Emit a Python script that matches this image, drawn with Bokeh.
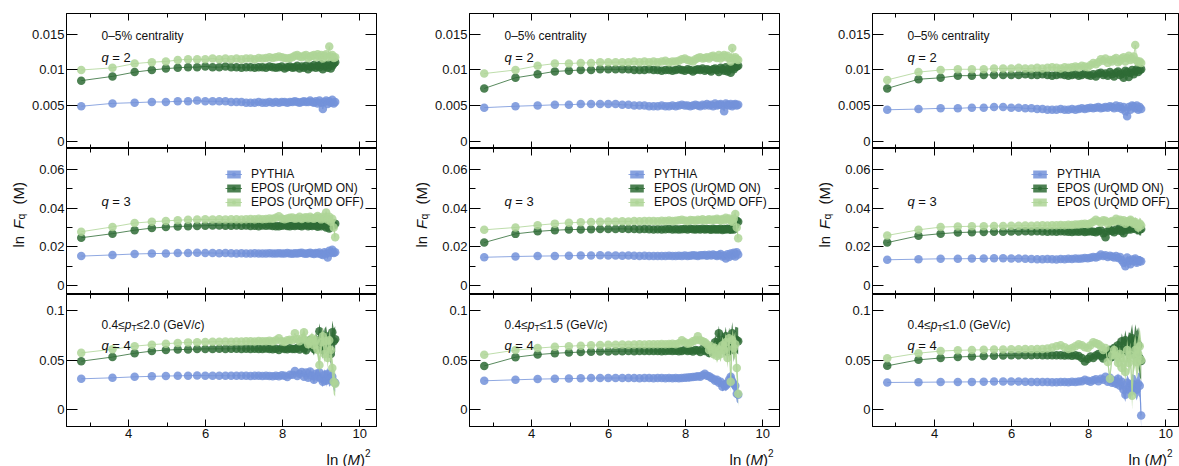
import numpy as np
from bokeh.plotting import figure
from bokeh.layouts import row, column
from bokeh.models import (FixedTicker, LinearAxis, Range1d, Label, Legend,
                          LegendItem, CustomJSTickFormatter, Spacer)
from bokeh.embed import file_html
from bokeh.resources import INLINE

# ---------------------------------------------------------------- data
M_BINS = [4, 6, 8, 10, 12, 14, 16, 18, 20, 22,
          24, 26, 28, 30, 32, 34, 36, 38, 40, 42,
          44, 46, 48, 50, 52, 54, 56, 58, 60, 62,
          64, 66, 68, 70, 72, 74, 76, 78, 80, 82,
          84, 86, 88, 90, 92, 94, 96, 98, 100, 102,
          104, 106, 108]
UNIT = 1e-4  # all values below are in units of 1e-4

# pT 0.4-2.0
C1_Q2_PYTHIA = [49, 53, 54, 55, 55, 56, 56, 57, 56, 56,
                56, 56, 55, 55, 55, 54, 54, 54, 55, 54,
                54, 55, 54, 55, 54, 55, 55, 54, 55, 55,
                56, 55, 54, 55, 56, 55, 55, 57, 55, 54,
                56, 53, 57, 54, 45, 55, 57, 52, 56, 54,
                58, 53, 55]
C1_Q2_ON = [85, 91, 97, 100, 102, 103, 104, 104, 105, 104,
            104, 105, 104, 104, 103, 104, 104, 103, 104, 104,
            103, 105, 104, 103, 104, 105, 102, 104, 105, 103,
            104, 106, 102, 105, 103, 106, 101, 105, 104, 107,
            103, 106, 104, 108, 101, 105, 107, 103, 108, 102,
            106, 109, 111]
C1_Q2_OFF = [100, 103, 109, 111, 112, 114, 115, 115, 115, 116,
             115, 116, 115, 116, 115, 116, 116, 115, 117, 116,
             117, 118, 117, 118, 119, 118, 117, 116, 117, 118,
             120, 121, 119, 118, 120, 121, 117, 119, 120, 121,
             118, 122, 119, 121, 116, 120, 122, 118, 133, 119,
             121, 117, 118]
C1_Q3_PYTHIA = [152, 158, 163, 165, 166, 168, 168, 169, 168, 168,
                167, 168, 167, 166, 167, 166, 166, 167, 166, 165,
                166, 167, 166, 165, 167, 166, 165, 168, 166, 164,
                167, 165, 168, 169, 166, 164, 167, 170, 165, 163,
                168, 166, 171, 162, 158, 172, 165, 145, 180, 170,
                185, 168, 172]
C1_Q3_ON = [247, 268, 286, 297, 302, 305, 307, 308, 309, 310,
            310, 309, 309, 310, 309, 310, 308, 309, 307, 310,
            309, 310, 308, 307, 306, 309, 311, 308, 306, 310,
            308, 312, 309, 307, 311, 313, 306, 310, 308, 314,
            309, 304, 312, 307, 315, 310, 300, 312, 295, 318,
            322, 310, 320]
C1_Q3_OFF = [278, 303, 323, 330, 334, 338, 340, 341, 342, 341,
             342, 341, 343, 342, 341, 343, 344, 342, 345, 343,
             344, 346, 345, 350, 358, 347, 343, 346, 350, 352,
             345, 348, 356, 344, 350, 353, 347, 356, 348, 345,
             352, 360, 350, 342, 355, 348, 378, 340, 355, 330,
             345, 300, 250]
C1_Q4_PYTHIA = [310, 320, 330, 335, 338, 340, 342, 343, 342, 341,
                342, 341, 340, 342, 341, 340, 339, 341, 340, 338,
                342, 339, 337, 341, 336, 345, 340, 328, 352, 350,
                390, 338, 360, 380, 330, 375, 320, 385, 340, 300,
                360, 330, 375, 310, 280, 350, 290, 360, 300, 320,
                330, 280, 270]
C1_Q4_ON = [488, 530, 568, 590, 600, 605, 607, 610, 612, 612,
            613, 612, 613, 614, 612, 613, 611, 614, 612, 610,
            615, 612, 609, 614, 600, 622, 612, 608, 618, 610,
            612, 620, 605, 640, 618, 598, 660, 700, 640, 610,
            700, 650, 790, 680, 600, 720, 740, 630, 700, 560,
            780, 690, 710]
C1_Q4_OFF = [572, 608, 640, 655, 665, 672, 678, 680, 682, 684,
             685, 686, 685, 688, 686, 689, 690, 688, 692, 689,
             690, 695, 688, 700, 720, 690, 682, 700, 705, 700,
             770, 710, 690, 720, 780, 700, 660, 690, 720, 650,
             700, 600, 450, 680, 740, 560, 690, 520, 700, 600,
             420, 280, 260]

# pT 0.4-1.5
C2_Q2_PYTHIA = [47, 49, 50, 51, 51, 52, 52, 52, 52, 52,
                51, 51, 50, 50, 50, 49, 49, 49, 50, 49,
                49, 50, 49, 50, 51, 50, 50, 49, 50, 51,
                50, 49, 51, 50, 52, 50, 51, 49, 53, 50,
                51, 52, 50, 42, 53, 51, 50, 52, 49, 51,
                52, 50, 51]
C2_Q2_ON = [74, 89, 94, 98, 99, 100, 100, 101, 101, 101,
            101, 101, 100, 100, 100, 101, 100, 100, 99, 100,
            100, 99, 100, 101, 100, 99, 101, 100, 98, 100,
            101, 100, 102, 99, 101, 100, 98, 101, 102, 100,
            97, 103, 101, 99, 104, 98, 102, 96, 103, 101,
            104, 105, 106]
C2_Q2_OFF = [95, 100, 106, 109, 109, 110, 110, 111, 111, 111,
             111, 111, 112, 111, 112, 111, 112, 111, 112, 113,
             111, 112, 112, 113, 115, 116, 114, 113, 112, 115,
             117, 118, 116, 117, 118, 116, 119, 120, 118, 117,
             121, 116, 119, 121, 118, 120, 117, 112, 131, 116,
             118, 115, 114]
C2_Q3_PYTHIA = [146, 150, 152, 153, 154, 155, 155, 156, 155, 155,
                154, 155, 154, 153, 154, 153, 152, 153, 152, 153,
                154, 152, 153, 154, 152, 155, 153, 154, 156, 155,
                153, 157, 156, 158, 154, 159, 155, 160, 156, 152,
                158, 163, 150, 155, 140, 162, 148, 165, 155, 170,
                150, 172, 160]
C2_Q3_ON = [222, 267, 280, 286, 289, 290, 291, 292, 292, 292,
            293, 292, 292, 291, 292, 291, 290, 291, 290, 291,
            292, 290, 291, 289, 291, 292, 290, 293, 291, 290,
            292, 289, 293, 290, 292, 291, 288, 293, 290, 291,
            289, 293, 287, 292, 290, 294, 291, 288, 296, 290,
            310, 335, 330]
C2_Q3_OFF = [288, 300, 312, 320, 324, 327, 329, 330, 331, 331,
             332, 331, 333, 332, 333, 334, 333, 332, 335, 334,
             336, 333, 335, 338, 340, 336, 334, 339, 337, 335,
             340, 338, 342, 336, 339, 343, 337, 341, 339, 345,
             340, 336, 344, 338, 350, 342, 347, 336, 330, 345,
             370, 300, 245]
C2_Q4_PYTHIA = [290, 300, 307, 310, 312, 315, 317, 318, 318, 318,
                318, 317, 318, 316, 318, 317, 316, 318, 317, 315,
                318, 316, 319, 315, 318, 320, 322, 325, 328, 332,
                335, 330, 345, 360, 340, 335, 320, 310, 290, 300,
                270, 280, 230, 250, 240, 260, 300, 330, 280, 260,
                240, 160, 150]
C2_Q4_ON = [440, 528, 555, 568, 575, 580, 583, 586, 587, 588,
            589, 590, 589, 591, 590, 592, 590, 591, 589, 592,
            593, 590, 594, 588, 592, 600, 590, 596, 585, 600,
            595, 580, 610, 590, 620, 570, 630, 600, 680, 650,
            770, 620, 700, 660, 740, 580, 720, 640, 770, 600,
            710, 700, 690]
C2_Q4_OFF = [552, 600, 620, 633, 640, 645, 650, 652, 653, 655,
             656, 655, 657, 658, 657, 660, 659, 658, 662, 660,
             661, 665, 660, 668, 700, 680, 665, 672, 690, 700,
             740, 700, 690, 680, 660, 600, 640, 560, 620, 540,
             600, 560, 650, 600, 680, 520, 720, 280, 700, 620,
             660, 420, 160]

# pT 0.4-1.0
C3_Q2_PYTHIA = [44, 45, 46, 46, 47, 47, 48, 48, 47, 47,
                46, 46, 45, 45, 44, 44, 44, 45, 44, 44,
                45, 44, 45, 46, 45, 46, 47, 46, 47, 48,
                46, 47, 48, 47, 49, 48, 46, 50, 47, 49,
                45, 48, 42, 35, 48, 44, 50, 49, 46, 50,
                44, 48, 45]
C3_Q2_ON = [74, 87, 89, 92, 92, 93, 93, 93, 93, 93,
            94, 93, 93, 94, 93, 92, 93, 94, 93, 92,
            93, 94, 92, 93, 95, 93, 92, 94, 91, 95,
            96, 93, 95, 92, 97, 94, 91, 96, 98, 93,
            95, 89, 99, 97, 90, 96, 100, 94, 98, 101,
            97, 100, 101]
C3_Q2_OFF = [86, 97, 100, 101, 101, 101, 102, 102, 102, 103,
             102, 102, 103, 102, 103, 104, 103, 102, 104, 103,
             104, 105, 104, 106, 105, 104, 107, 110, 108, 111,
             115, 113, 116, 110, 114, 112, 115, 117, 111, 113,
             116, 118, 112, 117, 120, 114, 116, 119, 135, 113,
             111, 112, 110]
C3_Q3_PYTHIA = [133, 136, 138, 138, 139, 140, 141, 141, 140, 139,
                138, 137, 136, 136, 137, 136, 135, 137, 136, 138,
                137, 139, 138, 140, 142, 141, 144, 148, 145, 150,
                160, 152, 156, 147, 154, 150, 145, 152, 142, 148,
                130, 118, 100, 145, 128, 110, 135, 125, 140, 118,
                130, 128, 125]
C3_Q3_ON = [222, 257, 268, 274, 276, 277, 278, 278, 279, 279,
            280, 279, 280, 279, 278, 279, 278, 280, 279, 278,
            277, 279, 278, 280, 277, 279, 281, 278, 276, 282,
            285, 270, 250, 280, 288, 282, 275, 290, 285, 300,
            280, 270, 295, 288, 310, 290, 300, 296, 305, 290,
            295, 290, 292]
C3_Q3_OFF = [259, 288, 302, 305, 306, 307, 308, 308, 309, 309,
             310, 309, 310, 311, 310, 312, 311, 313, 312, 314,
             313, 316, 315, 318, 320, 317, 322, 330, 340, 332,
             325, 338, 335, 320, 328, 334, 330, 345, 335, 340,
             330, 338, 320, 332, 328, 340, 330, 320, 328, 315,
             300, 320, 310]
C3_Q4_PYTHIA = [273, 275, 277, 278, 279, 280, 282, 284, 283, 282,
                280, 279, 278, 277, 278, 276, 275, 278, 277, 276,
                280, 278, 282, 285, 300, 290, 280, 295, 305, 285,
                310, 300, 330, 280, 320, 270, 290, 260, 310, 240,
                280, 200, 150, 270, 230, 190, 260, 250, 240, 200,
                260, 240, -60]
C3_Q4_ON = [441, 502, 520, 530, 536, 540, 542, 545, 547, 548,
            549, 548, 550, 549, 548, 547, 548, 549, 546, 548,
            544, 547, 540, 520, 485, 510, 535, 520, 545, 560,
            540, 515, 570, 555, 600, 530, 620, 580, 650, 560,
            690, 600, 700, 580, 660, 640, 720, 560, 700, 620,
            650, 520, 490]
C3_Q4_OFF = [518, 569, 590, 598, 601, 603, 605, 607, 608, 609,
             610, 608, 611, 612, 615, 625, 640, 650, 630, 610,
             620, 640, 660, 650, 630, 620, 650, 680, 670, 660,
             640, 600, 620, 480, 310, 550, 600, 540, 470, 560,
             420, 520, 380, 600, 470, 550, 140, 520, 600, 480,
             560, 640, 500]

# uncertainties of the last 20 bins (same units), visible only at large M
C1_Q3_ERR = {"PYTHIA": [4, 4, 5, 5, 6, 6, 7, 7, 8, 8, 9, 10, 10, 11, 12, 13, 14, 15, 16, 18],
             "ON": [5, 5, 6, 6, 7, 8, 8, 9, 10, 11, 12, 13, 14, 15, 16, 18, 20, 22, 24, 26],
             "OFF": [5, 5, 6, 6, 7, 8, 8, 9, 10, 11, 12, 13, 14, 15, 16, 18, 20, 22, 24, 26]}
C1_Q4_ERR = {"PYTHIA": [25, 28, 30, 32, 35, 38, 40, 42, 45, 48, 50, 55, 58, 60, 65, 70, 75, 80, 85, 90],
             "ON": [35, 40, 45, 50, 55, 60, 65, 70, 75, 80, 85, 90, 95, 100, 105, 110, 115, 120, 125, 130],
             "OFF": [35, 40, 45, 50, 55, 60, 65, 70, 75, 80, 85, 90, 95, 100, 105, 110, 115, 120, 125, 130]}
C2_Q3_ERR = {"PYTHIA": [4, 4, 5, 5, 6, 6, 7, 7, 8, 8, 9, 10, 10, 11, 12, 13, 14, 15, 16, 18],
             "ON": [5, 5, 6, 6, 7, 8, 8, 9, 10, 11, 12, 13, 14, 15, 16, 18, 20, 22, 24, 26],
             "OFF": [5, 5, 6, 6, 7, 8, 8, 9, 10, 11, 12, 13, 14, 15, 16, 18, 20, 22, 24, 26]}
C2_Q4_ERR = {"PYTHIA": [25, 28, 30, 32, 35, 38, 40, 42, 45, 48, 50, 55, 58, 60, 65, 70, 75, 80, 85, 90],
             "ON": [40, 45, 50, 55, 60, 65, 70, 75, 80, 85, 90, 95, 100, 105, 110, 115, 120, 125, 130, 135],
             "OFF": [40, 45, 50, 55, 60, 65, 70, 75, 80, 85, 90, 95, 100, 105, 110, 115, 120, 125, 130, 135]}
C3_Q3_ERR = {"PYTHIA": [5, 5, 6, 6, 7, 8, 8, 9, 10, 11, 12, 13, 14, 15, 16, 18, 20, 22, 24, 26],
             "ON": [6, 7, 8, 9, 10, 11, 12, 13, 14, 15, 16, 18, 20, 22, 24, 26, 28, 30, 32, 34],
             "OFF": [6, 7, 8, 9, 10, 11, 12, 13, 14, 15, 16, 18, 20, 22, 24, 26, 28, 30, 32, 34]}
C3_Q4_ERR = {"PYTHIA": [30, 35, 40, 45, 50, 55, 60, 65, 70, 75, 80, 85, 90, 95, 100, 105, 110, 115, 120, 125],
             "ON": [45, 50, 55, 60, 65, 70, 75, 80, 90, 100, 110, 120, 130, 140, 150, 160, 170, 180, 190, 200],
             "OFF": [45, 50, 55, 60, 65, 70, 75, 80, 90, 100, 110, 120, 130, 140, 150, 160, 170, 180, 190, 200]}

PT_MAX = ["2.0", "1.5", "1.0"]
Q_ORDERS = [2, 3, 4]
SERIES = ["PYTHIA", "ON", "OFF"]
SERIES_LABELS = {"PYTHIA": "PYTHIA", "ON": "EPOS (UrQMD ON)", "OFF": "EPOS (UrQMD OFF)"}
X_TICKS = [4, 6, 8, 10]
X_MINOR = [3, 5, 7, 9]
Y_TICKS = {2: [0, 0.005, 0.01, 0.015], 3: [0, 0.02, 0.04, 0.06], 4: [0, 0.05, 0.1]}
Y_MINOR = {2: [], 3: [0.01, 0.03, 0.05], 4: []}
Y_RANGES = {2: (-0.00105, 0.01795), 3: (-0.00466, 0.07086), 4: (-0.01717, 0.11616)}

DATA = {
    (0, 2): {"PYTHIA": C1_Q2_PYTHIA, "ON": C1_Q2_ON, "OFF": C1_Q2_OFF},
    (0, 3): {"PYTHIA": C1_Q3_PYTHIA, "ON": C1_Q3_ON, "OFF": C1_Q3_OFF},
    (0, 4): {"PYTHIA": C1_Q4_PYTHIA, "ON": C1_Q4_ON, "OFF": C1_Q4_OFF},
    (1, 2): {"PYTHIA": C2_Q2_PYTHIA, "ON": C2_Q2_ON, "OFF": C2_Q2_OFF},
    (1, 3): {"PYTHIA": C2_Q3_PYTHIA, "ON": C2_Q3_ON, "OFF": C2_Q3_OFF},
    (1, 4): {"PYTHIA": C2_Q4_PYTHIA, "ON": C2_Q4_ON, "OFF": C2_Q4_OFF},
    (2, 2): {"PYTHIA": C3_Q2_PYTHIA, "ON": C3_Q2_ON, "OFF": C3_Q2_OFF},
    (2, 3): {"PYTHIA": C3_Q3_PYTHIA, "ON": C3_Q3_ON, "OFF": C3_Q3_OFF},
    (2, 4): {"PYTHIA": C3_Q4_PYTHIA, "ON": C3_Q4_ON, "OFF": C3_Q4_OFF},
}
ERRS = {(0, 3): C1_Q3_ERR, (0, 4): C1_Q4_ERR, (1, 3): C2_Q3_ERR,
        (1, 4): C2_Q4_ERR, (2, 3): C3_Q3_ERR, (2, 4): C3_Q4_ERR}

# ---------------------------------------------------------------- style / layout
FONT = "Liberation Sans"
TXT = "#111111"
COLORS = {"PYTHIA": "#7392d9", "ON": "#2e6b35", "OFF": "#aed596"}
CW = {' ': .278, '.': .278, '=': .584, '≤': .549, '(': .333, ')': .333, '/': .278,
      'G': .778, 'e': .556, 'V': .667, 'c': .5, 'p': .556, 'T': .611, 'q': .556,
      'l': .222, 'n': .556, 'F': .611, 'M': .833, '%': .889, '–': .556}

BLOCK_W = [403, 403, 373]   # page width taken by each column of panels
YLAB_W = 28                 # strip that holds the y title
LEFT_B = 35                 # room for the tick labels
RIGHT_B = [27, 27, 1]
PX_PER_X = 38.9
X_START = 2.39
TOP_SPACE = 13
FRAME_H = {2: 135, 3: 146, 4: 132}
BOTTOM_B = 18
XT_H = 22                   # strip that holds the x title


def text_w(s, size):
    return sum(CW.get(ch, .556) for ch in s) * size


def rich(p, x, y, x0, y0, pieces, angle=0.0):
    """pieces: (text, size_px, italic, shift_perp, start or None)"""
    off = 0.0
    for text, size, italic, dy, at in pieces:
        if at is not None:
            off = at
        if angle == 0.0:
            xo, yo = x0 + off, y0 + dy
        else:
            xo, yo = x0 - dy, y0 + off
        p.add_layout(Label(x=x, y=y, x_offset=xo, y_offset=yo, text=text, angle=angle,
                           text_font=FONT, text_font_size=f"{size}px",
                           text_font_style="italic" if italic else "normal",
                           text_color=TXT, text_align="left", text_baseline="alphabetic"))
        off += text_w(text, size)


def blank_fig(w, h):
    f = figure(width=w, height=h, x_range=Range1d(0, w), y_range=Range1d(0, h),
               x_axis_location=None, y_axis_location=None,
               min_border_left=0, min_border_right=0, min_border_top=0, min_border_bottom=0,
               output_backend="svg", toolbar_location=None)
    f.grid.visible = False
    f.outline_line_color = None
    f.background_fill_color = "white"
    f.border_fill_color = "white"
    return f


def style_axis(ax, major_in, minor_in, labels):
    ax.major_tick_in = major_in
    ax.major_tick_out = 0
    ax.minor_tick_in = minor_in
    ax.minor_tick_out = 0
    ax.major_tick_line_color = "black"
    ax.minor_tick_line_color = "black"
    ax.axis_line_color = "black"
    if labels:
        ax.major_label_text_font = FONT
        ax.major_label_text_font_size = "13px"
        ax.major_label_text_color = TXT
    else:
        ax.formatter = CustomJSTickFormatter(code="return '';")
        ax.major_label_text_font_size = "0px"
        ax.major_label_standoff = 0


def make_panel(ci, q):
    pw = BLOCK_W[ci] - YLAB_W
    fw = pw - LEFT_B - RIGHT_B[ci]
    x_end = X_START + fw / PX_PER_X
    mb = BOTTOM_B if q == 4 else 0
    y0, y1 = Y_RANGES[q]
    p = figure(width=pw, height=FRAME_H[q] + mb,
               x_range=Range1d(X_START, x_end), y_range=Range1d(y0, y1),
               x_axis_location=None, y_axis_location=None,
               min_border_left=LEFT_B, min_border_right=RIGHT_B[ci],
               min_border_top=0, min_border_bottom=mb,
               output_backend="svg", toolbar_location=None)
    p.grid.visible = False
    p.outline_line_color = "black"
    p.outline_line_width = 1
    p.background_fill_color = "white"
    p.border_fill_color = "white"

    xt = FixedTicker(ticks=X_TICKS, minor_ticks=X_MINOR)
    yt = FixedTicker(ticks=Y_TICKS[q], minor_ticks=Y_MINOR[q])
    left = LinearAxis(ticker=yt, formatter=CustomJSTickFormatter(
        code="return String(Math.round(tick*1e6)/1e6);"))
    style_axis(left, 11, 6, True)
    left.major_label_standoff = 2
    right = LinearAxis(ticker=yt)
    style_axis(right, 11, 5, False)
    above = LinearAxis(ticker=xt)
    style_axis(above, 7, 4, False)
    below = LinearAxis(ticker=xt)
    style_axis(below, 7, 4, q == 4)
    if q == 4:
        below.major_label_standoff = 2
    p.add_layout(left, "left")
    p.add_layout(right, "right")
    p.add_layout(above, "above")
    p.add_layout(below, "below")

    x = np.log(np.array(M_BINS, dtype=float) ** 2)
    errs = ERRS.get((ci, q))
    items = []
    for key in SERIES:
        c = COLORS[key]
        y = np.array(DATA[(ci, q)][key], dtype=float) * UNIT
        rends = []
        if errs is not None:
            e = np.zeros_like(y)
            tail = np.array(errs[key], dtype=float) * UNIT
            e[len(y) - len(tail):] = tail
            rends.append(p.varea(x=x, y1=y - e, y2=y + e, fill_color=c, fill_alpha=0.85))
        rends.append(p.line(x, y, line_color=c, line_width=1, line_alpha=0.8))
        rends.append(p.scatter(x, y, size=8.5, fill_color=c, fill_alpha=0.85, line_alpha=0))
        items.append(LegendItem(label=SERIES_LABELS[key], renderers=rends))

    qw = text_w("q ", 13)
    if q == 2:
        rich(p, X_START, y1, 35, -22, [("0–5% centrality", 12, False, 0, None)])
        rich(p, X_START, y1, 35, -43.7, [("q", 13, True, 0, None), ("= 2", 13, False, 0, qw)])
    elif q == 3:
        rich(p, X_START, y1, 35, -53.4, [("q", 13, True, 0, None), ("= 3", 13, False, 0, qw)])
        leg = Legend(items=items, location=(159, 85), background_fill_alpha=0,
                     border_line_alpha=0, label_text_font=FONT, label_text_font_size="12px",
                     label_text_color=TXT, glyph_width=17, glyph_height=10,
                     label_height=14, label_standoff=9, spacing=0, padding=0, margin=0)
        p.add_layout(leg)
    else:
        rich(p, X_START, y1, 35, -30.3,
             [("0.4≤", 12, False, 0, None), ("p", 12, True, 0, None),
              ("T", 8.5, False, -3.5, None),
              ("≤" + PT_MAX[ci] + " (GeV/", 12, False, 0, None), ("c", 12, True, 0, None),
              (")", 12, False, 0, None)])
        rich(p, X_START, y1, 35, -50.7, [("q", 13, True, 0, None), ("= 4", 13, False, 0, qw)])
    return p, fw


blocks = []
for ci in range(3):
    panels = []
    fw = None
    for q in Q_ORDERS:
        p, fw = make_panel(ci, q)
        panels.append(p)
    panels_h = FRAME_H[2] + FRAME_H[3] + FRAME_H[4] + BOTTOM_B

    # y title strip: ln F_q (M), rotated, beside the middle panel
    ylab = blank_fig(YLAB_W, panels_h)
    rich(ylab, 18, panels_h - (247 - TOP_SPACE), 0, 0,
         [("ln", 15, False, 0, 0), ("F", 15, True, 0, 18.5), ("q", 10.5, False, -2.5, 28),
          ("(M)", 15, False, 0, 43)], angle=np.pi / 2)

    # x title strip: ln (M)^2, right-aligned under the frame
    xt = blank_fig(BLOCK_W[ci], XT_H)
    title = [("ln (", 15, False, 0, None), ("M", 15, True, 0, None), (")", 15, False, 0, None),
             ("2", 10, False, 6, None)]
    tw = sum(text_w(t, s) for t, s, _, _, _ in title)
    right_end = YLAB_W + LEFT_B + fw - 6
    rich(xt, 0, 0, right_end - tw, 7.5, title)

    blocks.append(column([Spacer(width=BLOCK_W[ci], height=TOP_SPACE),
                          row([ylab, column(panels, spacing=0)], spacing=0),
                          xt], spacing=0))

layout = row(blocks, spacing=0)

open("out.html", "w").write(file_html(layout, INLINE))
